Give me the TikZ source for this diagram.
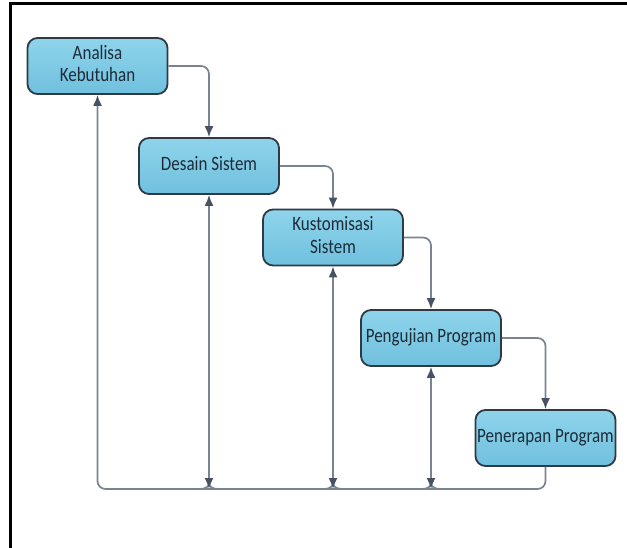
\documentclass[tikz,border=0pt]{standalone}
\usepackage{fontspec}
\setmainfont{Carlito}
\usepackage{xcolor}
\usepackage{graphicx}
\usepackage{tikz}
\usetikzlibrary{arrows.meta}

\definecolor{boxline}{HTML}{2E3A44}
\definecolor{boxtop}{HTML}{8ED4EB}
\definecolor{boxbot}{HTML}{70C0DE}
\definecolor{garis}{HTML}{7A8391}
\definecolor{ujung}{HTML}{485265}
\definecolor{teks}{HTML}{1E2B38}

\newcommand{\judul}[1]{\raisebox{-1.5pt}{\scalebox{1}[1.2]{\begin{tabular}{@{}c@{}}#1\end{tabular}}}}

\begin{document}
\begin{tikzpicture}[x=1pt,y=-1pt,
	tahap/.style={draw=boxline,line width=1.8pt,rounded corners=10pt,top color=boxtop,bottom color=boxbot,
		minimum width=140pt,minimum height=56pt,inner sep=0pt,align=center,text=teks,
		font=\fontsize{17}{18.5}\selectfont},
	garisan/.style={draw=garis,line width=1.7pt},
	alur/.style={garisan,rounded corners=8pt,-{Latex[length=11pt,width=9pt,color=ujung]}},
	bolak/.style={garisan,{Latex[length=11pt,width=9pt,color=ujung]}-{Latex[length=11pt,width=9pt,color=ujung]}}]
		\useasboundingbox (0,0) rectangle (627,548);
		\draw[line width=3pt] (10,548) -- (10,4) -- (627,4);
		% tahapan
		\node[tahap] (analisa) at (97.5,66) {\judul{Analisa\\Kebutuhan}};
		\node[tahap] (desain) at (209,166) {\judul{Desain Sistem}};
		\node[tahap] (kustom) at (333,237.5) {\judul{Kustomisasi\\Sistem}};
		\node[tahap] (uji) at (431,338) {\judul{Pengujian Program}};
		\node[tahap] (terap) at (545.5,438) {\judul{Penerapan Program}};
		% alur maju
		\draw[alur] (analisa.east) -| (desain.north);
		\draw[alur] (desain.east) -| (kustom.north);
		\draw[alur] (kustom.east) -| (uji.north);
		\draw[alur] (uji.east) -| (terap.north);
		% alur balik
		\coordinate (dasar) at (0,489);
		\draw[alur] (terap.south) |- (analisa.south |- dasar) -- (analisa.south);
		\foreach \t in {desain,kustom,uji}{
			\draw[garisan] (\t.south |- dasar) ++(-9,0) .. controls +(6,0) and +(0,3) .. ++(9,-6)
				.. controls +(0,3) and +(-6,0) .. ++(9,6);
			\draw[bolak] (\t.south |- dasar) -- (\t.south);
		}
	\end{tikzpicture}
\end{document}
